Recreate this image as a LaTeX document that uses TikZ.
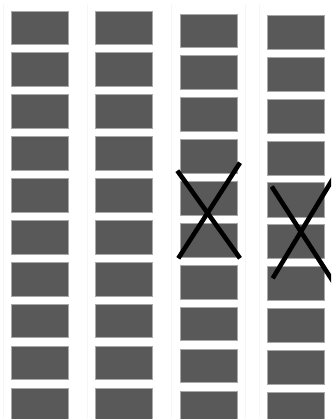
\documentclass[tikz,border=0pt]{standalone}
\definecolor{boxfill}{HTML}{595959}
\definecolor{boxedge}{HTML}{A8A8A8}
\definecolor{faint}{HTML}{F6F6F6}
\tikzset{
  cell/.style={fill=boxfill, draw=boxedge, line width=0.8pt},
  cross/.style={line width=4.6pt, draw=black},
  guide/.style={draw=faint, line width=0.8pt}
}
\begin{document}
\begin{tikzpicture}[x=1pt,y=-1pt]
\useasboundingbox (0,0) rectangle (331,419);
\clip (0,0) rectangle (331,419);
\fill[white] (0,0) rectangle (331,419);
% faint guides
\foreach \gx in {3.5,87.3,171.7,245.3,259.3}
  \draw[guide] (\gx,4) -- (\gx,419);
% columns: left, right, first top, height
\foreach \xl/\xr/\yt/\hh in {11.3/68.7/11/33.5, 95.7/152.3/11/33.5, 180/237.3/14/33.5, 267.3/324.3/15.3/34}{
  \foreach \r in {0,...,9}{
    \pgfmathsetmacro{\ya}{\yt+41.9*\r}
    \pgfmathsetmacro{\yb}{\ya+\hh}
    \draw[cell] (\xl,\ya) rectangle (\xr,\yb);
  }
}
% crosses
\coordinate (a1) at (177.3,170.7);
\coordinate (a2) at (240,258.3);
\coordinate (b1) at (240,162.7);
\coordinate (b2) at (178.3,258.3);
\draw[cross] (a1) -- (a2);
\draw[cross] (b1) -- (b2);
\coordinate (c1) at (271.7,186.5);
\coordinate (c2) at (334,283);
\coordinate (d1) at (272.7,278.3);
\coordinate (d2) at (334,177);
\draw[cross] (c1) -- (c2);
\draw[cross] (d1) -- (d2);
\end{tikzpicture}
\end{document}
